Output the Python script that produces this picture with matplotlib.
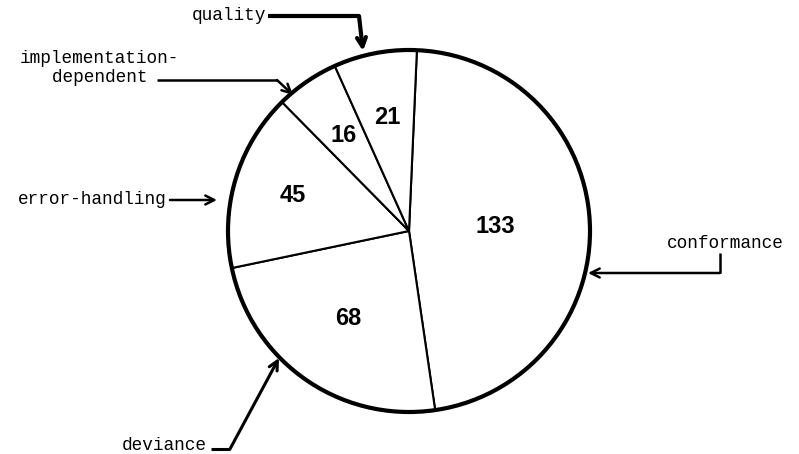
import numpy as np
import matplotlib.pyplot as plt
from matplotlib.patches import Circle

# data
categories = ['conformance', 'deviance', 'error-handling',
              'implementation-\n   dependent', 'quality']
counts = [133, 68, 45, 16, 21]

W, H = 799, 454
def Y(y):
    return H - y

numfont = 'Liberation Sans'
txtfont = 'Liberation Mono'

fig = plt.figure(figsize=(W / 100, H / 100), dpi=100)
ax = fig.add_axes([0, 0, 1, 1])

cx, cy, R = 409, Y(231), 181
wedges, _ = ax.pie(counts, startangle=87.5, counterclock=False,
                   center=(cx, cy), radius=R, frame=True,
                   wedgeprops=dict(facecolor='white', edgecolor='black', linewidth=1.5))
ax.add_patch(Circle((cx, cy), R, fill=False, edgecolor='black', linewidth=3.0, zorder=3))

# count labels inside the wedges
dist = [0.48, 0.59, 0.67, 0.64, 0.64]
for w, n, d in zip(wedges, counts, dist):
    a = np.deg2rad((w.theta1 + w.theta2) / 2)
    ax.text(cx + d * R * np.cos(a), cy + d * R * np.sin(a), str(n),
            fontsize=17, fontweight='bold', family=numfont,
            ha='center', va='center')

#%% leader arrows
def leader(pts, lw=1.8):
    xs = [p[0] for p in pts]
    ys = [Y(p[1]) for p in pts]
    ax.plot(xs[:-1], ys[:-1], color='black', lw=lw, solid_capstyle='butt')
    ax.annotate('', xy=(xs[-1], ys[-1]), xytext=(xs[-2], ys[-2]),
                arrowprops=dict(arrowstyle='->', lw=lw, color='black',
                                mutation_scale=16, shrinkA=0, shrinkB=0))

tk = dict(family=txtfont, fontsize=12.8, color='black')

# conformance
ax.text(667, Y(243), categories[0], ha='left', va='center', **tk)
leader([(720, 253), (720, 273), (588, 273)])

# deviance
ax.text(207, Y(446), categories[1], ha='right', va='center', **tk)
leader([(211, 449), (230, 449), (279, 358)], lw=2.2)

# error-handling
ax.text(18, Y(199), categories[2], ha='left', va='center', **tk)
leader([(170, 200), (217, 200)])

# implementation-dependent
ax.text(20, Y(68), categories[3], ha='left', va='center', linespacing=1.2, **tk)
leader([(157, 80), (277, 80), (293, 95)])

# quality
ax.text(192, Y(16), categories[4], ha='left', va='center', **tk)
leader([(268, 16), (359, 16), (363, 51)], lw=3.0)

ax.set_xlim(0, W)
ax.set_ylim(0, H)
ax.set_aspect('equal')
ax.axis('off')

fig.savefig('out.png', dpi=100, facecolor='white')
